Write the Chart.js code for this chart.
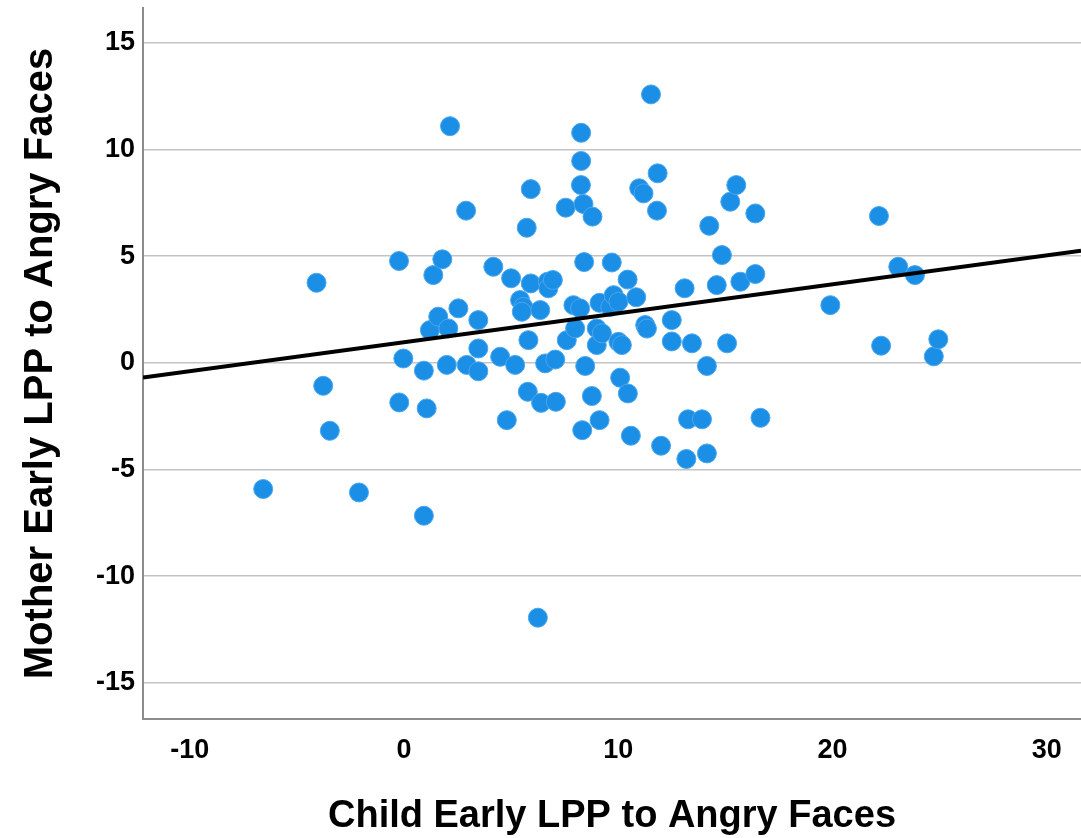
<!DOCTYPE html>
<html>
<head>
<meta charset="utf-8">
<title>Child vs Mother Early LPP</title>
<script src="https://cdn.jsdelivr.net/npm/chart.js@4.4.1/dist/chart.umd.min.js"></script>
<style>
  html, body { margin: 0; padding: 0; background: #fff; }
  #wrap { width: 1081px; height: 838px; }
</style>
</head>
<body>
<div id="wrap"><canvas id="myChart" width="1081" height="838"></canvas></div>
<script>
// early LPP amplitude to angry faces, one point per dyad
var childLpp = [
  -6.57, -4.08, -3.77, -3.46, -2.1, -0.23, -0.22, -0.03, 0.93, 0.93,
  1.06, 1.21, 1.37, 1.6, 1.79, 2.0, 2.07, 2.15, 2.54, 2.9,
  2.93, 3.47, 3.47, 3.47, 4.17, 4.49, 4.8, 5.0, 5.19, 5.42,
  5.57, 5.5, 6.36, 5.81, 5.73, 5.92, 5.92, 5.78, 6.25, 6.4,
  6.59, 6.71, 6.74, 6.95, 7.06, 7.09, 7.55, 7.6, 7.91, 7.99,
  8.22, 8.27, 8.27, 8.26, 8.38, 8.41, 8.46, 8.32, 8.77, 8.8,
  9.0, 9.0, 9.13, 9.24, 9.13, 9.63, 9.7, 9.79, 10.01, 10.01,
  10.17, 10.09, 10.45, 10.44, 10.59, 10.84, 10.98, 11.18, 11.26, 11.34,
  11.53, 11.81, 11.84, 12.0, 12.5, 12.5, 13.1, 13.18, 13.26, 13.44,
  13.91, 14.14, 14.14, 14.25, 14.6, 14.84, 15.08, 15.23, 15.51, 15.7,
  16.4, 16.4, 16.64, 19.9, 22.17, 22.27, 23.07, 23.85, 24.73, 24.94
]
var motherLpp = [
  -5.92, 3.75, -1.08, -3.19, -6.08, 4.77, -1.86, 0.2, -0.37, -7.17,
  -2.14, 1.53, 4.11, 2.16, 4.85, -0.1, 1.61, 11.09, 2.55, 7.13,
  -0.1, 2.0, 0.67, -0.4, 4.5, 0.28, -2.69, 3.96, -0.1, 2.94,
  2.62, 2.39, 2.47, 1.06, 6.33, 8.14, 3.72, -1.36, -11.95, -1.88,
  -0.03, 3.8, 3.49, 3.88, 0.15, -1.83, 7.27, 1.06, 2.7, 1.61,
  2.55, 10.78, 9.46, 8.33, 7.44, 4.72, -0.15, -3.16, -1.56, 6.85,
  1.61, 0.83, 2.81, 1.38, -2.69, 2.62, 4.7, 3.17, 2.86, 0.98,
  0.83, -0.7, -1.44, 3.9, -3.42, 3.07, 8.18, 7.94, 1.77, 1.6,
  12.58, 7.13, 8.88, -3.89, 2.0, 1.0, 3.49, -4.51, -2.65, 0.91,
  -2.65, -0.15, -4.25, 6.42, 3.64, 5.05, 0.91, 7.55, 8.33, 3.8,
  7.0, 4.16, -2.58, 2.7, 6.88, 0.8, 4.5, 4.11, 0.3, 1.1
]

// fit line ends, at the edges of the x range
var fitX = [-12.18, 31.6]
var fitY = [-0.69, 5.25]

var xTicks = [-10, 0, 10, 20, 30]
var yTicks = [-15, -10, -5, 0, 5, 10, 15]

var xRange = [-12.18, 31.6]
var yRange = [-16.7, 16.63]

var points = childLpp.map(function (x, i) { return { x: x, y: motherLpp[i] } })
var fitLine = fitX.map(function (x, i) { return { x: x, y: fitY[i] } })

var fontFamily = '"Liberation Sans", Arial, Helvetica, sans-serif'

// no extra room around the plot for half-labels at the ends
function noEdgePadding(scale) {
    scale.paddingTop = 0
    scale.paddingBottom = 0
    scale.paddingLeft = 0
    scale.paddingRight = 0
}

var ctx = document.getElementById('myChart').getContext('2d')

var chart = new Chart(ctx, {
    type: 'scatter',
    data: {
        datasets: [
            {
                type: 'line',
                label: 'Fit',
                data: fitLine,
                borderColor: '#000',
                borderWidth: 4,
                pointRadius: 0,
                fill: false,
                order: 0
            },
            {
                label: 'Dyads',
                data: points,
                backgroundColor: '#1b8fe6',
                borderColor: '#4aa6ee',
                borderWidth: 1,
                pointRadius: 9.5,
                order: 1
            }
        ]
    },
    options: {
        responsive: false,
        animation: false,
        layout: {
            autoPadding: false,
            padding: { top: 8, right: 0, left: 0, bottom: 0 }
        },
        plugins: {
            legend: { display: false },
            tooltip: { enabled: false }
        },
        scales: {
            x: {
                type: 'linear',
                min: xRange[0],
                max: xRange[1],
                afterFit: function (scale) {
                    scale.height = 119
                    noEdgePadding(scale)
                },
                afterBuildTicks: function (scale) {
                    scale.ticks = xTicks.map(function (v) { return { value: v } })
                },
                grid: { display: false },
                border: { display: true, color: '#8c8c8c', width: 2 },
                ticks: {
                    padding: 7,
                    color: '#000',
                    font: { family: fontFamily, size: 27, weight: 'bold' }
                },
                title: {
                    display: true,
                    text: 'Child Early LPP to Angry Faces',
                    color: '#000',
                    padding: { top: 0, bottom: 2 },
                    font: { family: fontFamily, size: 38, weight: 'bold', lineHeight: 1 }
                }
            },
            y: {
                type: 'linear',
                min: yRange[0],
                max: yRange[1],
                afterFit: function (scale) {
                    scale.width = 143
                    noEdgePadding(scale)
                },
                afterBuildTicks: function (scale) {
                    scale.ticks = yTicks.map(function (v) { return { value: v } })
                },
                grid: {
                    color: '#c4c4c4',
                    lineWidth: 1.5,
                    drawTicks: false
                },
                border: { display: true, color: '#8c8c8c', width: 2 },
                ticks: {
                    padding: 8,
                    color: '#000',
                    font: { family: fontFamily, size: 27, weight: 'bold' }
                },
                title: {
                    display: true,
                    text: 'Mother Early LPP to Angry Faces',
                    color: '#000',
                    padding: { top: 21, bottom: 0 },
                    font: { family: fontFamily, size: 40, weight: 'bold', lineHeight: 1 }
                }
            }
        }
    }
})
</script>
</body>
</html>
